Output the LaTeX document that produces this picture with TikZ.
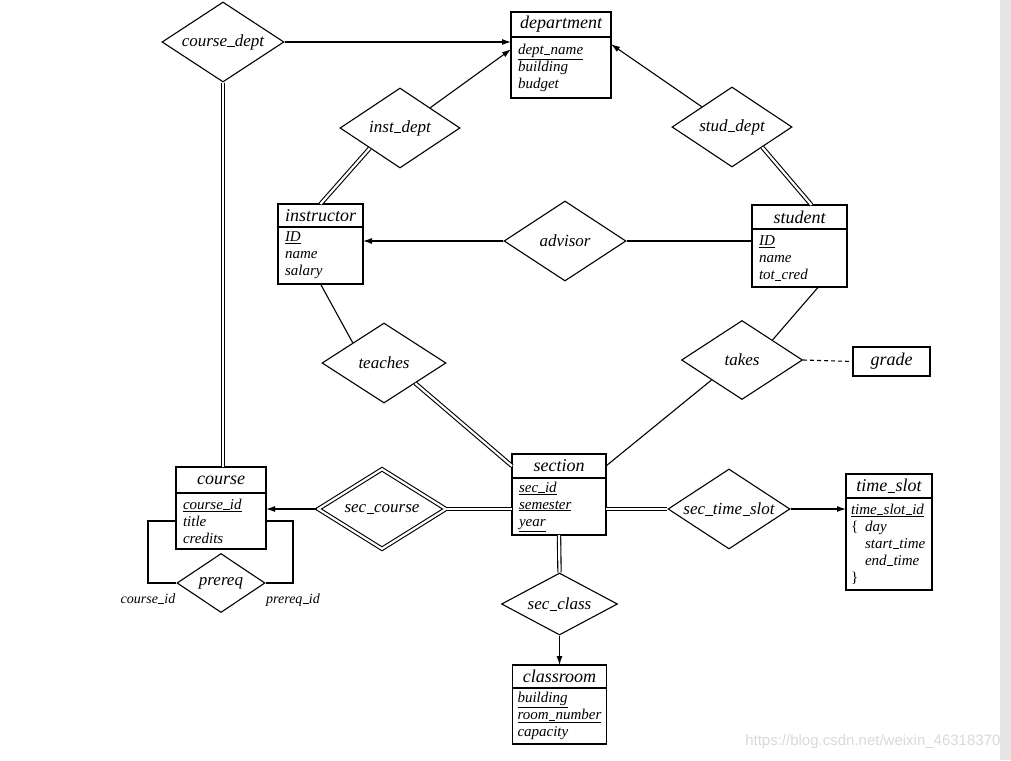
\documentclass[tikz,border=0pt]{standalone}
\usepackage{fontspec}
\usepackage{tikz}
\usetikzlibrary{shapes.geometric}
\usetikzlibrary{arrows.meta}
\usetikzlibrary{positioning}
\setmainfont{Liberation Serif}
\newfontfamily\wmfont{Liberation Sans}
\newcommand{\entfont}{\fontsize{18}{20}\selectfont\itshape}
\newcommand{\attfont}{\fontsize{15}{17}\selectfont\itshape}
\newcommand{\relfont}{\fontsize{17}{19}\selectfont\itshape}
\newcommand{\lblfont}{\fontsize{14}{15}\selectfont\itshape}
\newcommand{\us}{\kern0.02em\rule[-0.12ex]{0.42em}{0.6pt}\kern0.02em}
\tikzset{
  ent/.style={draw, font=\entfont, minimum height=24pt, inner sep=0pt, outer sep=0pt},
  att/.style={draw, font=\attfont, align=left, anchor=north west, inner xsep=7pt, inner ysep=2pt, outer sep=0pt},
  rel/.style={draw, diamond, inner sep=0pt, minimum width=122pt, minimum height=80pt, label={[font=\relfont]center:#1}},
  dbl/.style={double, double distance=2.2pt},
  arr/.style={-{Latex[length=9pt,width=6pt]}},
  lbl/.style={font=\lblfont, inner sep=1pt}
}
\begin{document}
\begin{tikzpicture}[x=1pt, y=-1pt, line width=1.1pt]
    \useasboundingbox (0,0) rectangle (1011,760);
    \fill[black!10] (1000,0) rectangle (1011,760);

    % entities
    \node[ent, minimum width=100pt, minimum height=25pt] (dept) at (561,24.5) {department};
    \node[att, text width=86pt, minimum height=61pt] (dept-a) at (dept.south west)
        {\underline{dept\us name}\\ building\\ budget};

    \node[ent, minimum width=85pt, minimum height=23pt] (instr) at (320.5,215.5) {instructor};
    \node[att, text width=71pt, minimum height=57pt] (instr-a) at (instr.south west)
        {\underline{ID}\\ name\\ salary};

    \node[ent, minimum width=95pt] (stud) at (799.5,217) {student};
    \node[att, text width=81pt, minimum height=58pt] (stud-a) at (stud.south west)
        {\underline{ID}\\ name\\ tot\us cred};

    \node[ent, minimum width=94pt] (sec) at (559,466) {section};
    \node[att, text width=80pt, minimum height=57pt] (sec-a) at (sec.south west)
        {\underline{sec\us id}\\ \underline{semester}\\ \underline{year}};

    \node[ent, minimum width=90pt, minimum height=26pt] (course) at (221,480) {course};
    \node[att, text width=76pt, minimum height=56pt] (course-a) at (course.south west)
        {\underline{course\us id}\\ title\\ credits};

    \node[ent, minimum width=86pt] (tslot) at (889,486) {time\us slot};
    \node[att, text width=76pt, minimum height=92pt, inner xsep=5pt] (tslot-a) at (tslot.south west)
        {\underline{time\us slot\us id}\\ \makebox[14pt][l]{\upshape\{}day\\ \hspace*{14pt}start\us time\\
         \hspace*{14pt}end\us time\\ \upshape\}};

    \node[ent, minimum width=94pt, minimum height=23pt] (class) at (559.5,676.5) {classroom};
    \node[att, text width=84pt, minimum height=56pt, inner xsep=5pt] (class-a) at (class.south west)
        {\underline{building}\\ \underline{room\us number}\\ capacity};

    \node[ent, minimum width=77pt, minimum height=29pt] (grade) at (891.5,361.5) {grade};

    % relationships
    \node[rel=course\us dept] (cdept) at (223,42) {};
    \node[rel=inst\us dept, minimum width=120pt] (idept) at (400,128) {};
    \node[rel=stud\us dept, minimum width=120pt] (sdept) at (732,127) {};
    \node[rel=advisor] (adv) at (565,241) {};
    \node[rel=teaches, minimum width=124pt] (teach) at (384,363) {};
    \node[rel=takes, minimum width=121pt, minimum height=79pt] (takes) at (742,360) {};
    \node[rel=sec\us course, minimum width=128pt, dbl] (secc) at (382,509) {};
    \node[rel=sec\us time\us slot] (sects) at (729,509) {};
    \node[rel=sec\us class, minimum width=116pt, minimum height=62pt] (secl) at (559.5,604) {};
    \node[rel=prereq, minimum width=88pt, minimum height=59pt] (pre) at (221,583) {};

    % connectors
    \draw[arr] (cdept.east) -- (cdept.east -| dept-a.west);
    \draw[dbl] (cdept.south) -- (cdept.south |- course.north);
    \draw[arr] (idept.north east) -- (dept-a.160);
    \draw[dbl] (idept.south west) -- (instr.north);
    \draw[arr] (sdept.north west) -- (dept-a.25);
    \draw[dbl] (sdept.south east) -- (stud.45);
    \draw[arr] (adv.west) -- (adv.west -| instr-a.east);
    \draw (adv.east) -- (adv.east -| stud-a.west);
    \draw (teach.north west) -- (instr-a.south);
    \draw[dbl] (teach.south east) -- (sec.west);
    \draw (takes.north east) -- (stud-a.-57);
    \draw (takes.south west) -- (sec.east);
    \draw[dash pattern=on 4pt off 3pt] (takes.east) -- (grade.west);
    \draw[dbl] (secc.east) -- (secc.east -| sec-a.west);
    \draw[arr] (secc.west) -- (secc.west -| course-a.east);
    \draw[dbl] (sec-a.east |- sects.west) -- (sects.west);
    \draw[arr] (sects.east) -- (sects.east -| tslot-a.west);
    \draw[dbl] (sec-a.south) -- (secl.north);
    \draw[arr] (secl.south) -- (class.north);
    \draw (course-a.west) -- ++(-28,0) coordinate (pl) |- (pre.west);
    \draw (course-a.east) -- ++(27,0) coordinate (pr) |- (pre.east);
    \node[lbl, below=9pt] (cid) at (pl |- pre.west) {course\us id};
    \node[lbl, below=9pt] (pid) at (pr |- pre.east) {prereq\us id};

    \node[font=\wmfont\fontsize{15}{17}\selectfont, text=black!15, anchor=east, inner sep=0pt] (wm) at (1001,742)
        {https://blog.csdn.net/weixin\_46318370};
\end{tikzpicture}
\end{document}
